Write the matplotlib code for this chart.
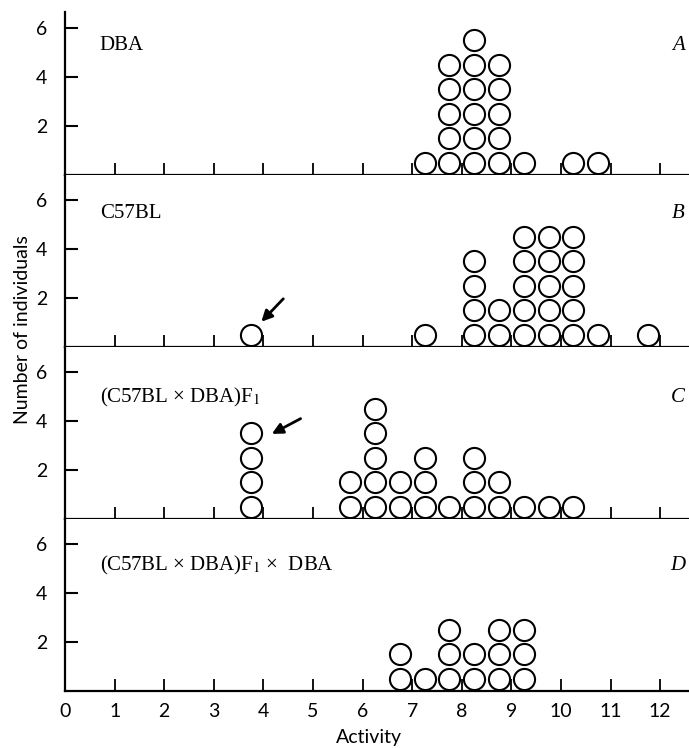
import matplotlib
matplotlib.use('Agg')
import matplotlib.pyplot as plt

plt.rcParams['mathtext.fontset'] = 'stix'

# activity bins (centre of half-unit class) and number of mice in each
dba_x = [7.25, 7.75, 8.25, 8.75, 9.25, 10.25, 10.75]
dba_n = [1, 5, 6, 5, 1, 1, 1]

c57_x = [3.75, 7.25, 8.25, 8.75, 9.25, 9.75, 10.25, 10.75, 11.75]
c57_n = [1, 1, 4, 2, 5, 5, 5, 1, 1]

f1_x = [3.75, 5.75, 6.25, 6.75, 7.25, 7.75, 8.25, 8.75, 9.25, 9.75, 10.25]
f1_n = [4, 2, 5, 2, 3, 1, 3, 2, 1, 1, 1]

bc_x = [6.75, 7.25, 7.75, 8.25, 8.75, 9.25]
bc_n = [2, 1, 3, 2, 3, 3]

names = ['DBA', 'C57BL', r'(C57BL × DBA)F$_1$', r'(C57BL × DBA)F$_1$ ×  DBA']
letters = ['A', 'B', 'C', 'D']
xticks = list(range(0, 13))

W, H = 689, 748
fig = plt.figure(figsize=(W / 100, H / 100), dpi=100)

left_px = 65
px_x = 49.6   # pixels per activity unit
px_y = 24.5   # pixels per individual
baselines = [175, 347, 519, 691]
tops = [12, 175, 347, 519]
name_y = [5.3, 5.45, 4.95, 5.13]

panels = [(dba_x, dba_n), (c57_x, c57_n), (f1_x, f1_n), (bc_x, bc_n)]
axes = []
for i, (xs, ns) in enumerate(panels):
    b = baselines[i]
    t = tops[i]
    ax = fig.add_axes([left_px / W, 1 - b / H, (W - left_px) / W, (b - t) / H])
    ax.set_xlim(0, (W - left_px) / px_x)
    ax.set_ylim(0, (b - t) / px_y)
    for s in ['top', 'right']:
        ax.spines[s].set_visible(False)
    for s in ['left', 'bottom']:
        ax.spines[s].set_linewidth(1.6)

    # stack one circle per individual
    px, py = [], []
    for x, n in zip(xs, ns):
        for k in range(n):
            px.append(x)
            py.append(k + 0.5)
    ax.plot(px, py, 'o', ms=15.2, mfc='white', mec='black', mew=1.5,
            clip_on=False, zorder=3)

    ax.set_xticks(xticks[1:])
    ax.set_yticks([2, 4, 6])
    ax.tick_params(axis='x', direction='in', length=8.5, width=1.3, pad=8.5)
    ax.tick_params(axis='y', direction='in', length=9, width=1.5, pad=13)
    ax.set_yticklabels(['2', '4', '6'], fontsize=14, family='Lato')
    if i < 3:
        ax.set_xticklabels([])
    else:
        ax.set_xticks(xticks)
        ax.set_xticklabels([str(v) for v in xticks], fontsize=14, family='Lato')
        ax.xaxis.get_major_ticks()[0].tick1line.set_visible(False)

    ax.text(0.7, name_y[i], names[i], fontsize=15, family='Liberation Serif',
            va='center', ha='left')
    ax.text(12.5, name_y[i], letters[i], fontsize=15, family='Liberation Serif',
            style='italic', va='center', ha='right')
    axes.append(ax)

# arrows pointing at the low-activity mice
axes[1].annotate('', xy=(3.92, 0.95), xytext=(4.44, 2.05),
                 arrowprops=dict(arrowstyle='-|>', color='black', lw=2,
                                 mutation_scale=16))
axes[2].annotate('', xy=(4.12, 3.42), xytext=(4.8, 4.15),
                 arrowprops=dict(arrowstyle='-|>', color='black', lw=2,
                                 mutation_scale=16))

fig.text(23 / W, 1 - 330 / H, 'Number of individuals', rotation=90,
         fontsize=14, family='Lato', ha='center', va='center')
fig.text(369 / W, 1 - 743 / H, 'Activity', fontsize=14, family='Lato',
         ha='center', va='baseline')

fig.savefig('out.png', dpi=100)
